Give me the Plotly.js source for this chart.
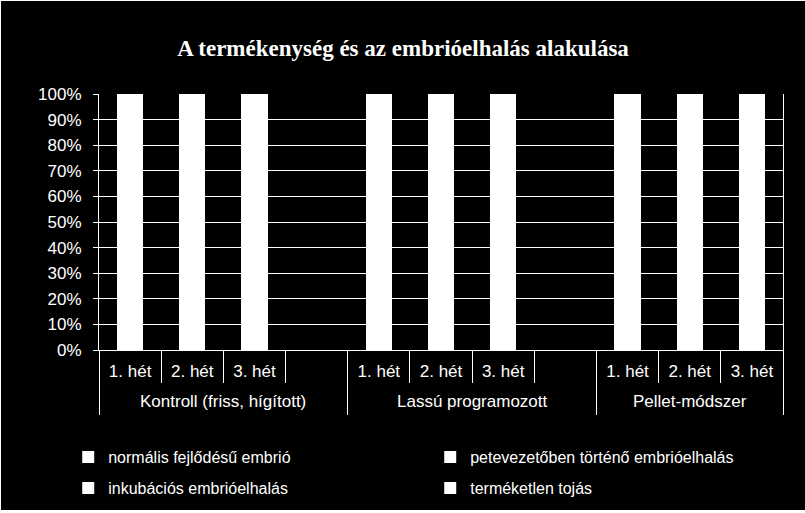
<!DOCTYPE html>
<html>
<head>
<meta charset="utf-8">
<script src="https://cdn.plot.ly/plotly-3.0.1.min.js"></script>
<style>
  html, body { margin: 0; padding: 0; background: #fff; }
  #chart { position: absolute; left: 1px; top: 1px; width: 804px; height: 509px; }
</style>
</head>
<body>
<div id="chart"></div>
<script>
// category levels (outer group, inner week); the blank week is the empty slot Excel leaves between groups
const groups = [
    'Kontroll (friss, hígított)', 'Kontroll (friss, hígított)', 'Kontroll (friss, hígított)', 'Kontroll (friss, hígított)',
    'Lassú programozott', 'Lassú programozott', 'Lassú programozott', 'Lassú programozott',
    'Pellet-módszer', 'Pellet-módszer', 'Pellet-módszer'
];
const weeks = ['1. hét', '2. hét', '3. hét', ' ', '1. hét', '2. hét', '3. hét', ' ', '1. hét', '2. hét', '3. hét'];

// series (shares in %, every bar is drawn 100% stacked)
const normal     = [84, 80, 76, null, 52, 44, 35, null, 60, 51, 42];
const oviduct    = [4, 5, 6, null, 9, 10, 12, null, 8, 9, 11];
const incubation = [5, 6, 7, null, 11, 13, 15, null, 10, 12, 14];
const infertile  = [7, 9, 11, null, 28, 33, 38, null, 22, 28, 33];

const seriesNames = [
    'normális fejlődésű embrió',
    'petevezetőben történő embrióelhalás',
    'inkubációs embrióelhalás',
    'terméketlen tojás'
];
const seriesValues = [normal, oviduct, incubation, infertile];
const seriesLegend = ['legend', 'legend', 'legend2', 'legend2'];

const white = '#ffffff';
const sans = 'Liberation Sans, Arial, sans-serif';

// one unique key per slot so the repeated week names stay separate categories
const keys = weeks.map((w, i) => groups[i] + ' / ' + w + ' / ' + i);

let data = seriesValues.map((vals, i) => ({
    type: 'bar',
    name: seriesNames[i],
    x: keys,
    y: vals,
    legend: seriesLegend[i],
    marker: {color: white, line: {width: 0}},
    hoverinfo: 'skip'
}));

// slot boundaries (short separators) and group boundaries (long dividers)
const slotBounds = weeks.map((w, i) => i - 0.5).concat([weeks.length - 0.5]);
const groupNames = groups.filter((g, i) => i === 0 || groups[i - 1] !== g);
const groupBounds = [-0.5];
const groupCenters = [];
groupNames.forEach(g => {
    const first = groups.indexOf(g);
    const last = groups.lastIndexOf(g);
    groupCenters.push((first + last) / 2);
    groupBounds.push(last + 0.5);
});

data.push({type: 'scatter', x: [], y: [], xaxis: 'x2', showlegend: false, hoverinfo: 'skip'});
data.push({type: 'scatter', x: [], y: [], xaxis: 'x3', showlegend: false, hoverinfo: 'skip'});

const tickAxis = (vals, len) => ({
    overlaying: 'x',
    anchor: 'y',
    side: 'bottom',
    range: [-0.5, weeks.length - 0.5],
    tickmode: 'array',
    tickvals: vals,
    ticks: 'outside',
    ticklen: len,
    tickwidth: 1,
    tickcolor: white,
    showticklabels: false,
    showgrid: false,
    zeroline: false,
    showline: false
});

const legendBase = {
    orientation: 'h',
    x: -0.045,
    xanchor: 'left',
    yanchor: 'middle',
    entrywidth: 317,
    traceorder: 'normal',
    bgcolor: 'rgba(0,0,0,0)',
    font: {family: sans, size: 16, color: white},
    itemclick: false,
    itemdoubleclick: false
};

const annotations = groupNames.map((g, i) => ({
    text: g,
    x: groupCenters[i],
    xref: 'x',
    y: -(400 - 349) / 256,
    yref: 'paper',
    xanchor: 'center',
    yanchor: 'middle',
    showarrow: false,
    font: {family: sans, size: 17, color: white}
}));

const layout = {
    width: 804,
    height: 509,
    paper_bgcolor: '#000000',
    plot_bgcolor: '#000000',
    margin: {l: 98, r: 22, t: 93, b: 160, autoexpand: false},
    barmode: 'stack',
    barnorm: 'percent',
    bargap: 0.58,
    showlegend: true,
    title: {
        text: 'A termékenység és az embrióelhalás alakulása',
        font: {family: 'Liberation Serif, Times New Roman, serif', size: 23, color: white, weight: 'bold'},
        x: 0.5,
        xanchor: 'center',
        xref: 'container',
        yref: 'container',
        y: 1 - 47 / 509,
        yanchor: 'middle'
    },
    xaxis: {
        type: 'category',
        range: [-0.5, weeks.length - 0.5],
        tickmode: 'array',
        tickvals: keys,
        ticktext: weeks,
        showline: true,
        linecolor: white,
        linewidth: 1,
        showgrid: false,
        zeroline: false,
        ticks: '',
        ticklabelstandoff: 6,
        tickfont: {family: sans, size: 17, color: white}
    },
    xaxis2: tickAxis(slotBounds, 32),
    xaxis3: tickAxis(groupBounds, 64),
    yaxis: {
        range: [0, 100],
        dtick: 10,
        ticksuffix: '%',
        showline: true,
        mirror: true,
        linecolor: white,
        linewidth: 1,
        ticks: 'outside',
        ticklen: 5,
        tickwidth: 1,
        tickcolor: white,
        ticklabelstandoff: 8,
        showgrid: true,
        gridcolor: white,
        gridwidth: 1,
        zeroline: false,
        tickfont: {family: sans, size: 17, color: white}
    },
    annotations: annotations,
    legend: Object.assign({}, legendBase, {y: -(456 - 349) / 256}),
    legend2: Object.assign({}, legendBase, {y: -(487 - 349) / 256})
};

Plotly.newPlot('chart', data, layout, {displayModeBar: false, staticPlot: true});
</script>
</body>
</html>
